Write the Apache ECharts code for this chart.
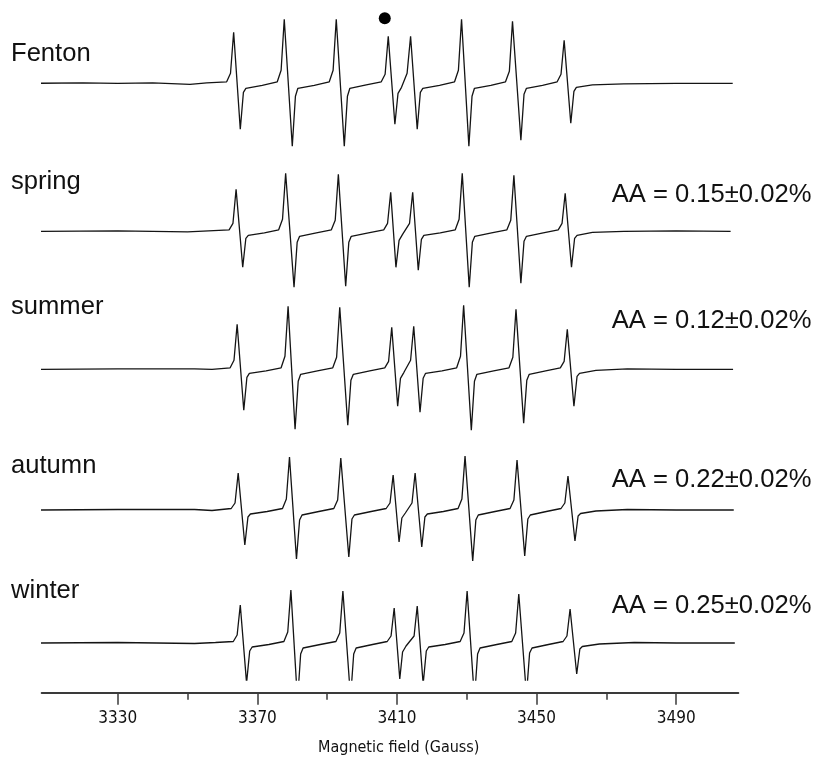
<!DOCTYPE html>
<html>
<head>
<meta charset="utf-8">
<script src="https://cdn.jsdelivr.net/npm/echarts@6/dist/echarts.min.js"></script>
<style>
html,body{margin:0;padding:0;background:#fff;}
#chart{width:815px;height:758px;}
</style>
</head>
<body>
<div id="chart"></div>
<script>
// ---- data (field in Gauss, signal in arbitrary units, baseline = 0) ----
var sampleNames = ['Fenton', 'spring', 'summer', 'autumn', 'winter'];
var aaLabels = ['', 'AA = 0.15\u00b10.02%', 'AA = 0.12\u00b10.02%', 'AA = 0.22\u00b10.02%', 'AA = 0.25\u00b10.02%'];
var majorTicks = [3330, 3370, 3410, 3450, 3490];
var minorTicks = [3350, 3390, 3430, 3470];
var axisTitle = 'Magnetic field (Gauss)';
var fentonMarker = [[3406.5, 65]];

var fentonTrace = [
[3307.2,0],[3320,0.5],[3330,0],[3340,0.5],[3350.7,-1],[3355.5,0.5],
[3361.2,1.5],[3362.3,10],[3363.2,51],[3365.1,-46],[3366.0,-9],[3366.7,-5],[3371.4,-2],
[3375.7,1.5],[3376.8,13],[3377.7,64],[3380.0,-63],[3380.9,-13],[3381.6,-5],[3386.3,-2],
[3390.6,1.5],[3391.7,13],[3392.6,64],[3394.9,-63],[3395.8,-13],[3396.5,-5],[3401.2,-1.5],
[3405.5,1.5],[3406.6,9],[3407.5,47],[3409.4,-41],[3410.3,-10],[3411.3,-4],
[3412.9,10],[3413.9,47],[3415.8,-46],[3416.7,-9],[3417.4,-5],[3422.2,-2],
[3426.5,1.5],[3427.6,13],[3428.5,64],[3430.6,-63],[3431.5,-13],[3432.2,-5],[3436.9,-2],
[3441.1,1.5],[3442.2,12],[3443.1,62],[3445.5,-57],[3446.4,-11],[3447.1,-5],[3451.7,-2],
[3455.9,1.5],[3457.0,9],[3457.9,43],[3459.8,-40],[3460.7,-8],[3461.4,-4],
[3466,-1.5],[3475,-0.5],[3490,0],[3506.2,0]
];
var springTrace = [
[3307.2,0],[3330,0.5],[3350,-0.5],[3356,0.5],
[3361.9,1.5],[3363.0,8],[3363.9,42],[3365.8,-36],[3366.7,-7],[3367.4,-4],[3372.0,-1.5],
[3376.1,1.5],[3377.2,12],[3378.1,58],[3380.5,-56],[3381.4,-11],[3382.1,-5],[3386.9,-1.5],
[3391.2,1.5],[3392.3,11],[3393.2,57],[3395.3,-55],[3396.2,-11],[3396.9,-5],[3401.8,-1.5],
[3406.2,1.5],[3407.3,8],[3408.2,39],[3409.7,-36],[3410.6,-9],[3411.6,-3],
[3413.6,8],[3414.5,39],[3416.1,-39],[3417.0,-8],[3417.7,-4],[3422.4,-1.5],
[3426.7,1.5],[3427.8,12],[3428.7,58],[3430.7,-56],[3431.6,-11],[3432.3,-5],[3437.1,-1.5],
[3441.5,1.5],[3442.6,11],[3443.5,56],[3445.5,-52],[3446.4,-10],[3447.1,-5],[3451.9,-1.5],
[3456.2,1.5],[3457.3,8],[3458.2,38],[3460.0,-36],[3460.9,-7],[3461.6,-4],
[3466,-1],[3475,0],[3490,0.5],[3505.6,0]
];
var summerTrace = [
[3307.7,0],[3330,0.5],[3352,0.5],[3357,0],
[3362.2,1.5],[3363.3,9],[3364.2,45],[3366.1,-41],[3367.0,-8],[3367.7,-4],[3372.5,-1.5],
[3376.8,1.5],[3377.9,13],[3378.8,63],[3380.8,-60],[3381.7,-12],[3382.4,-5],[3387.2,-1.5],
[3391.6,1.5],[3392.7,12],[3393.6,62],[3395.9,-56],[3396.8,-11],[3397.5,-5],[3402.2,-1.5],
[3406.5,1.5],[3407.6,8],[3408.5,42],[3410.2,-37],[3411.0,-9],[3412.0,-3],
[3413.9,9],[3414.8,43],[3416.6,-43],[3417.5,-9],[3418.2,-4],[3422.9,-1.5],
[3427.1,1.5],[3428.2,13],[3429.1,64],[3431.3,-61],[3432.2,-12],[3432.9,-5],[3437.7,-1.5],
[3442.1,1.5],[3443.2,12],[3444.1,60],[3446.3,-54],[3447.2,-11],[3447.9,-5],[3452.6,-1.5],
[3456.8,1.5],[3457.9,8],[3458.8,40],[3460.7,-37],[3461.6,-7],[3462.3,-4],
[3467,-1],[3476,0.5],[3490,0],[3506.3,0]
];
var autumnTrace = [
[3307.7,0],[3330,0.5],[3352,0.5],[3357,-0.5],
[3362.5,1.5],[3363.6,7],[3364.5,37],[3366.4,-35],[3367.3,-7],[3368.0,-4],[3372.8,-1.5],
[3377.2,1.5],[3378.3,11],[3379.2,53],[3381.2,-49],[3382.1,-10],[3382.8,-5],[3387.6,-1.5],
[3391.9,1.5],[3393.0,10],[3393.9,52],[3396.2,-47],[3397.1,-9],[3397.8,-5],[3402.6,-1.5],
[3406.9,1.5],[3408.0,7],[3408.9,35],[3410.6,-32],[3411.4,-8],[3412.4,-3],
[3414.3,7],[3415.2,37],[3417.1,-37],[3418.0,-7],[3418.7,-4],[3423.3,-1.5],
[3427.5,1.5],[3428.6,11],[3429.5,54],[3431.7,-51],[3432.6,-10],[3433.3,-5],[3438.1,-1.5],
[3442.4,1.5],[3443.5,10],[3444.4,50],[3446.6,-46],[3447.5,-9],[3448.2,-5],[3452.8,-1.5],
[3457.0,1.5],[3458.1,7],[3459.0,34],[3461.0,-31],[3461.9,-6],[3462.6,-3.5],
[3467,-1],[3476,0.5],[3490,0],[3506.5,0]
];
var winterTrace = [
[3308.0,0],[3330,0.5],[3352,-0.5],[3358,0.5],
[3363.1,1.5],[3364.2,8],[3365.1,38],[3366.9,-40],[3367.8,-8],[3368.5,-4],[3373.3,-1.5],
[3377.6,1.5],[3378.7,11],[3379.6,53],[3381.5,-58],[3382.4,-11],[3383.1,-5],[3388.0,-1.5],
[3392.5,1.5],[3393.6,10],[3394.5,52],[3396.7,-55],[3397.6,-11],[3398.3,-5],[3403.0,-1.5],
[3407.2,1.5],[3408.3,7],[3409.2,35],[3410.8,-36],[3411.6,-9],[3412.6,-3],
[3414.9,7],[3415.8,37],[3417.5,-41],[3418.4,-8],[3419.1,-4],[3423.8,-1.5],
[3428.1,1.5],[3429.2,10],[3430.1,52],[3432.2,-56],[3433.1,-11],[3433.8,-5],[3438.6,-1.5],
[3442.9,1.5],[3444.0,10],[3444.9,49],[3447.1,-52],[3448.0,-10],[3448.7,-5],[3453.4,-1.5],
[3457.6,1.5],[3458.7,7],[3459.6,34],[3461.5,-31],[3462.4,-6],[3463.1,-3.5],
[3468,-1],[3478,0.5],[3490,0],[3506.8,0]
];
var traces = [fentonTrace, springTrace, summerTrace, autumnTrace, winterTrace];

// ---- layout ----
var FIELD_MIN = 3308.2, FIELD_MAX = 3507.8;
var LEFT = 41.7, WIDTH = 696.6;
var gridTops = [13.3, 161.3, 299.3, 440, 573];
var gridHeights = [140, 140, 140, 140, 107];
var yMins = [-70, -70, -70, -70, -37];
var clips = [false, false, false, false, true];
var nameY = [52, 180.4, 305.4, 464.4, 589.4];
var aaY = [0, 192.8, 319.4, 477.8, 604.4];

var LINE_COLOR = '#141414';
var TEXT_COLOR = '#111';
var BIG_FONT = "'Liberation Sans', Arial, Helvetica, sans-serif";
var NARROW_FONT = "'Liberation Sans Narrow', 'Arial Narrow', 'DejaVu Sans Condensed', sans-serif";

var grids = [], xAxes = [], yAxes = [], series = [], graphics = [];
for (var i = 0; i < traces.length; i++) {
  grids.push({left: LEFT, width: WIDTH, top: gridTops[i], height: gridHeights[i]});
  xAxes.push({type: 'value', gridIndex: i, min: FIELD_MIN, max: FIELD_MAX, show: false});
  yAxes.push({type: 'value', gridIndex: i, min: yMins[i], max: 70, show: false});
  series.push({
    type: 'line', xAxisIndex: i, yAxisIndex: i, data: traces[i],
    showSymbol: false, symbol: 'none', clip: clips[i], silent: true,
    lineStyle: {color: LINE_COLOR, width: 1.3}
  });
  graphics.push({
    type: 'text', left: 11, top: nameY[i] - 11,
    style: {text: sampleNames[i], font: '25.6px ' + BIG_FONT, fill: TEXT_COLOR, verticalAlign: 'top'}
  });
  if (aaLabels[i]) {
    graphics.push({
      type: 'text', left: 611.7, top: aaY[i] - 11,
      style: {text: aaLabels[i], font: '25.6px ' + BIG_FONT, fill: TEXT_COLOR, verticalAlign: 'top'}
    });
  }
}
// Fenton marker dot
series.push({
  type: 'scatter', xAxisIndex: 0, yAxisIndex: 0, data: fentonMarker,
  symbol: 'circle', symbolSize: 12, itemStyle: {color: '#000', opacity: 1}, silent: true
});

// axis grid
grids.push({left: LEFT, width: WIDTH, top: 600, height: 92.7});
xAxes.push({
  type: 'value', gridIndex: 5, min: FIELD_MIN, max: FIELD_MAX, position: 'bottom',
  axisLine: {show: true, lineStyle: {color: '#3a3a3a', width: 2}},
  axisTick: {show: true, customValues: majorTicks, length: 12, inside: false, lineStyle: {color: '#3a3a3a', width: 1.5}},
  axisLabel: {show: true, customValues: majorTicks, margin: 17, color: TEXT_COLOR, fontSize: 17, fontFamily: NARROW_FONT,
    formatter: function (v) { return String(v); }},
  splitLine: {show: false}
});
xAxes.push({
  type: 'value', gridIndex: 5, min: FIELD_MIN, max: FIELD_MAX, position: 'bottom',
  axisLine: {show: false},
  axisTick: {show: true, customValues: minorTicks, length: 7, inside: false, lineStyle: {color: '#3a3a3a', width: 1.5}},
  axisLabel: {show: false},
  splitLine: {show: false}
});
yAxes.push({type: 'value', gridIndex: 5, min: 0, max: 1, show: false});

graphics.push({
  type: 'text', left: 318, top: 740,
  style: {text: axisTitle, font: '16px ' + NARROW_FONT, fill: TEXT_COLOR}
});

var chart = echarts.init(document.getElementById('chart'), null, {renderer: 'canvas'});
chart.setOption({
  animation: false,
  backgroundColor: '#fff',
  grid: grids,
  xAxis: xAxes,
  yAxis: yAxes,
  series: series,
  graphic: graphics
});
</script>
</body>
</html>
